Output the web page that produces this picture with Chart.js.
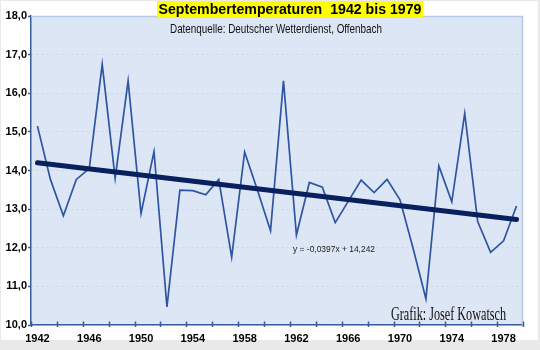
<!DOCTYPE html>
<html>
<head>
<meta charset="utf-8">
<script src="https://cdn.jsdelivr.net/npm/chart.js@4"></script>
<style>
html,body{margin:0;padding:0;background:#e9e9e9;}
#wrap{width:540px;height:350px;position:relative;}
</style>
</head>
<body>
<div id="wrap"><canvas id="c" width="540" height="350"></canvas></div>
<script>
const years = ["1942","1943","1944","1945","1946","1947","1948","1949","1950","1951","1952","1953","1954","1955","1956","1957","1958","1959","1960","1961","1962","1963","1964","1965","1966","1967","1968","1969","1970","1971","1972","1973","1974","1975","1976","1977","1978","1979"];
const temps = [15.15,13.77,12.83,13.77,14.05,16.75,13.80,16.32,12.89,14.49,10.47,13.49,13.48,13.37,13.77,11.76,14.48,13.48,12.44,16.32,12.33,13.69,13.57,12.65,13.20,13.75,13.43,13.77,13.24,12.00,10.68,14.12,13.19,15.48,12.68,11.88,12.18,13.08];
const trendPoints = [{x:"1942", y:14.20},{x:"1979", y:12.73}];
const yTicks = [10,11,12,13,14,15,16,17,18];
const xLabelYears = ["1942","1946","1950","1954","1958","1962","1966","1970","1974","1978"];
const titleText = "Septembertemperaturen  1942 bis 1979";
const subtitleText = "Datenquelle: Deutscher Wetterdienst, Offenbach";
const equationText = "y = -0,0397x + 14,242";
const creditText = "Grafik: Josef Kowatsch";

const AXIS = '#3a5b9c';

function fitText(ctx, text, x, y, targetW, align){
  const w = ctx.measureText(text).width;
  const s = targetW / w;
  ctx.save();
  ctx.translate(x, y);
  ctx.scale(s, 1);
  ctx.textAlign = align || 'center';
  ctx.fillText(text, 0, 0);
  ctx.restore();
}

const decor = {
  id: 'decor',
  beforeDraw(chart){
    const ctx = chart.ctx;
    const a = chart.chartArea;
    ctx.save();
    ctx.fillStyle = '#e9e9e9';
    ctx.fillRect(0,0,540,350);
    ctx.fillStyle = '#ffffff';
    ctx.fillRect(1,1,537,339);
    ctx.fillStyle = '#dde6f4';
    ctx.fillRect(a.left, a.top, a.right-a.left, a.bottom-a.top);
    ctx.restore();
  },
  beforeDatasetsDraw(chart){
    const ctx = chart.ctx;
    const a = chart.chartArea;
    ctx.save();
    ctx.strokeStyle = '#b6cae6';
    ctx.lineWidth = 1.5;
    ctx.beginPath();
    ctx.moveTo(a.left, a.top+0.5);
    ctx.lineTo(a.right-0.5, a.top+0.5);
    ctx.lineTo(a.right-0.5, a.bottom);
    ctx.stroke();
    const xs = chart.scales.x;
    ctx.strokeStyle = AXIS;
    ctx.lineWidth = 1.5;
    const n = years.length;
    for(let i=0;i<=n;i+=2){
      let px;
      if(i===0) px = xs.left;
      else if(i===n) px = xs.right;
      else px = (xs.getPixelForValue(i-1)+xs.getPixelForValue(i))/2;
      px = Math.round(px)+0.5;
      ctx.beginPath();
      ctx.moveTo(px, a.bottom-3.5);
      ctx.lineTo(px, a.bottom+2);
      ctx.stroke();
    }
    ctx.restore();
  },
  afterDraw(chart){
    const ctx = chart.ctx;
    ctx.save();
    ctx.fillStyle = '#ffff00';
    ctx.fillRect(157, 1, 266, 16);
    ctx.fillStyle = '#000000';
    ctx.font = 'bold 14.5px "Liberation Sans", Arial, sans-serif';
    ctx.textBaseline = 'middle';
    fitText(ctx, titleText, 290, 9.5, 263);
    ctx.font = '13px "Liberation Sans", Arial, sans-serif';
    ctx.fillStyle = '#111111';
    fitText(ctx, subtitleText, 276, 29, 212);
    ctx.font = '9px "Liberation Sans", Arial, sans-serif';
    ctx.fillStyle = '#222222';
    fitText(ctx, equationText, 293, 249.5, 82, 'left');
    ctx.font = '18px "Liberation Serif", "Times New Roman", serif';
    ctx.fillStyle = '#111111';
    ctx.textBaseline = 'alphabetic';
    fitText(ctx, creditText, 391, 320, 115, 'left');
    ctx.restore();
  }
};

new Chart(document.getElementById('c'), {
  type: 'line',
  data: {
    labels: years,
    datasets: [
      {
        label: 'Temperatur',
        data: temps,
        borderColor: '#2e55a3',
        borderWidth: 1.7,
        pointRadius: 0,
        tension: 0,
        fill: false,
        order: 2
      },
      {
        label: 'Trend',
        data: trendPoints,
        borderColor: '#08205e',
        borderWidth: 5,
        borderCapStyle: 'round',
        pointRadius: 0,
        tension: 0,
        fill: false,
        order: 1
      }
    ]
  },
  options: {
    responsive: false,
    animation: false,
    devicePixelRatio: 1,
    layout: { padding: { top: 16, right: 17, bottom: 0, left: 0 } },
    plugins: {
      legend: { display: false },
      title: { display: false },
      tooltip: { enabled: false }
    },
    scales: {
      x: {
        type: 'category',
        offset: true,
        afterFit(scale){ scale.height = 25; },
        grid: { display: false, drawTicks: false },
        border: { display: true, color: AXIS, width: 1.5 },
        ticks: {
          autoSkip: false,
          maxRotation: 0,
          minRotation: 0,
          padding: 7,
          color: '#000000',
          font: { family: '"Liberation Sans", Arial, sans-serif', size: 11, weight: 'bold' },
          callback(val, idx){ const l = years[idx]; return xLabelYears.includes(l) ? l : ''; }
        }
      },
      y: {
        min: yTicks[0],
        max: yTicks[yTicks.length-1],
        afterFit(scale){ scale.width = 31; },
        afterBuildTicks(scale){ scale.ticks = yTicks.map(v => ({value: v})); },
        grid: {
          color: 'rgba(175,190,215,0.4)',
          lineWidth: 1,
          drawTicks: true,
          tickLength: 3,
          tickColor: AXIS,
          tickWidth: 1.5
        },
        border: { display: true, color: AXIS, width: 1.5, dash: [2,3] },
        ticks: {
          padding: 1,
          color: '#000000',
          font: { family: '"Liberation Sans", Arial, sans-serif', size: 11, weight: 'bold' },
          callback(v){ return v.toFixed(1).replace('.', ','); }
        }
      }
    }
  },
  plugins: [decor]
});
</script>
</body>
</html>
